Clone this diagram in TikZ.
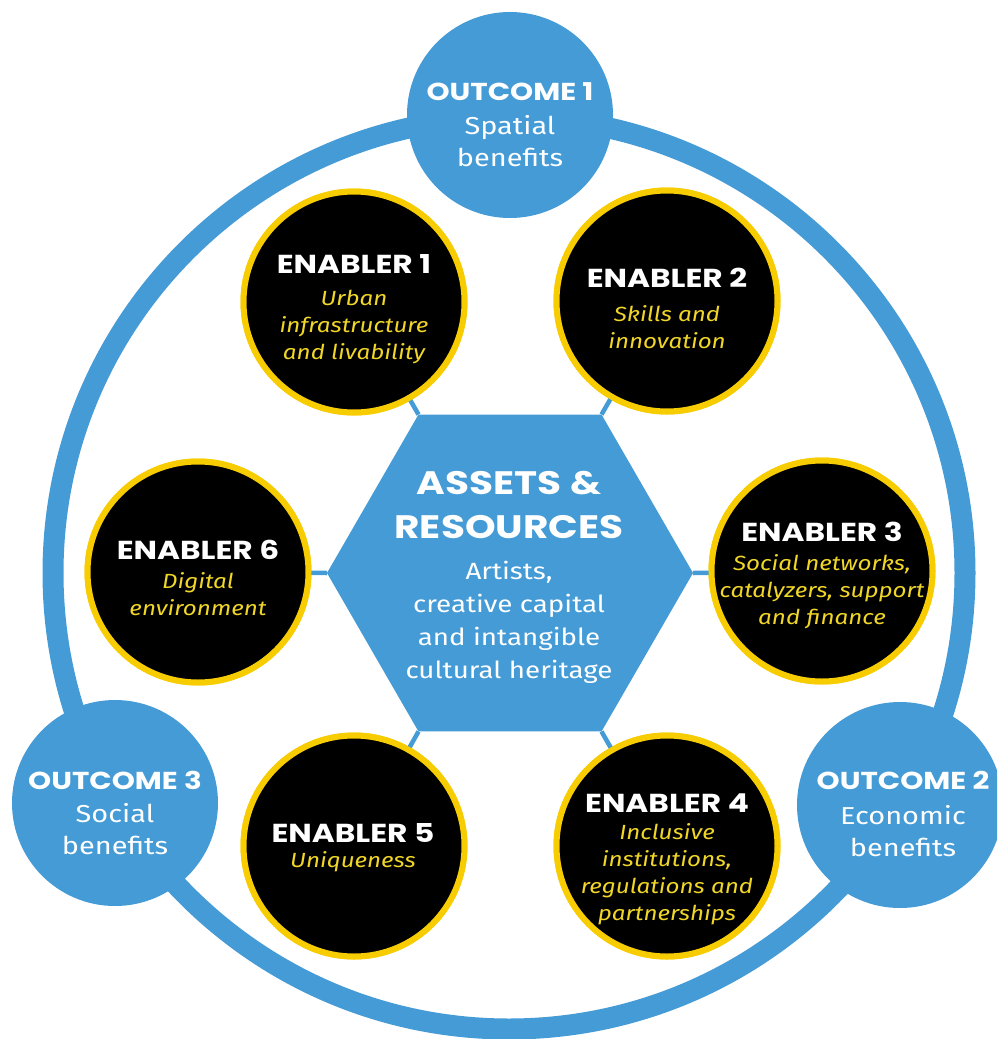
\documentclass[tikz,border=0pt]{standalone}
\usepackage{fontspec}
\setmainfont{Fira Sans}[FakeStretch=1.18]
\newfontfamily\headfont{Poppins}[FakeStretch=1.2]
\usetikzlibrary{shapes.geometric}
\definecolor{cblue}{RGB}{68,155,214}
\definecolor{cyel}{RGB}{247,204,0}
\definecolor{tyel}{RGB}{240,214,40}
\begin{document}
\begin{tikzpicture}[x=1pt,y=-1pt,
  ringst/.style={circle,draw=cblue,line width=21pt,minimum size=912pt,inner sep=0pt,outer sep=0pt},
  outcome/.style={circle,fill=cblue,minimum size=206pt,inner sep=0pt,outer sep=0pt},
  enabler/.style={circle,fill=black,draw=cyel,line width=6pt,minimum size=221pt,inner sep=0pt,outer sep=0pt},
  hexa/.style={regular polygon,regular polygon sides=6,fill=cblue,minimum size=366pt,inner sep=0pt,outer sep=0pt},
  link/.style={draw=cblue,line width=4.5pt},
  ehead/.style={text=white,inner sep=0pt,font=\headfont\bfseries\fontsize{26}{27}\selectfont},
  ebody/.style={text=tyel,inner sep=0pt,align=center,font=\itshape\fontsize{20.5}{27}\selectfont},
  ohead/.style={text=white,inner sep=0pt,font=\headfont\bfseries\fontsize{24.5}{27}\selectfont},
  obody/.style={text=white,inner sep=0pt,align=center,font=\fontsize{24.5}{32}\selectfont},
  hhead/.style={text=white,inner sep=0pt,align=center,font=\headfont\bfseries\fontsize{32.5}{44}\selectfont},
  hbody/.style={text=white,inner sep=0pt,align=center,font=\fontsize{23.5}{33}\selectfont}
]
\useasboundingbox (0,0) rectangle (997,1039);
\clip (0,0) rectangle (997,1039);
% outer ring and outcomes
\node[ringst] (ring) at (509,573) {};
\node[outcome] (o1) at (510,115) {};
\node[outcome] (o2) at (900,805) {};
\node[outcome] (o3) at (115,803) {};
% hexagon
\node[hexa] (hex) at (510,573) {};
% enablers
\node[enabler] (e1) at (354,302) {};
\node[enabler] (e2) at (667,301) {};
\node[enabler] (e3) at (822,571) {};
\node[enabler] (e4) at (667,846) {};
\node[enabler] (e5) at (354,846) {};
\node[enabler] (e6) at (198,572) {};
% links
\draw[link] (hex.120) -- (e1);
\draw[link] (hex.60) -- (e2);
\draw[link] (hex.0) -- (e3);
\draw[link] (hex.300) -- (e4);
\draw[link] (hex.240) -- (e5);
\draw[link] (hex.180) -- (e6);
% enablers again, over the link ends
\node[enabler] (e1c) at (354,302) {};
\node[enabler] (e2c) at (667,301) {};
\node[enabler] (e3c) at (822,571) {};
\node[enabler] (e4c) at (667,846) {};
\node[enabler] (e5c) at (354,846) {};
\node[enabler] (e6c) at (198,572) {};
% texts
\node[hhead] (hh) at (509,505) {ASSETS \&\\RESOURCES};
\node[hbody] (hb) at (509,622) {Artists,\\creative capital\\and intangible\\cultural heritage};
\node[ohead] (o1h) at (510,92) {OUTCOME 1};
\node[obody] (o1b) at (510,141) {Spatial\\benefits};
\node[ohead] (o2h) at (903,780) {OUTCOME 2};
\node[obody] (o2b) at (903,831) {Economic\\benefits};
\node[ohead] (o3h) at (115,780) {OUTCOME 3};
\node[obody] (o3b) at (115,829) {Social\\benefits};
\node[ehead] (e1h) at (354,264) {ENABLER 1};
\node[ebody] (e1b) at (354,327) {Urban\\infrastructure\\and livability};
\node[ehead] (e2h) at (667,278) {ENABLER 2};
\node[ebody] (e2b) at (667,327) {Skills and\\innovation};
\node[ehead] (e3h) at (822,532) {ENABLER 3};
\node[ebody] (e3b) at (822,592) {Social networks,\\catalyzers, support\\and finance};
\node[ehead] (e4h) at (667,803) {ENABLER 4};
\node[ebody] (e4b) at (667,874) {Inclusive\\institutions,\\regulations and\\partnerships};
\node[ehead] (e5h) at (353,833) {ENABLER 5};
\node[ebody] (e5b) at (353,862) {Uniqueness};
\node[ehead] (e6h) at (198,550) {ENABLER 6};
\node[ebody] (e6b) at (198,594) {Digital\\environment};
\end{tikzpicture}
\end{document}
